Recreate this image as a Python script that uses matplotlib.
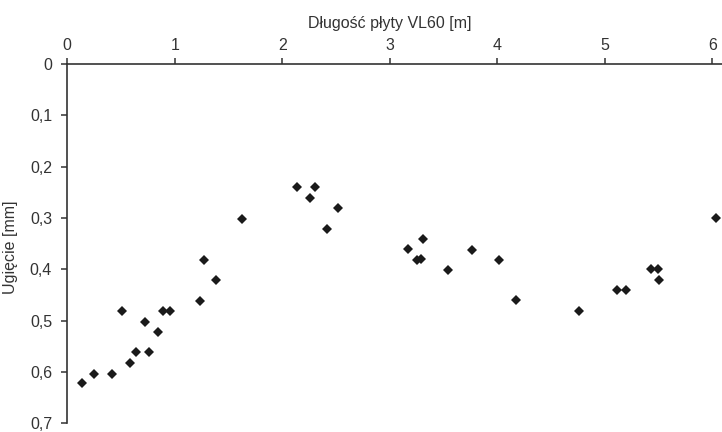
import matplotlib.pyplot as plt
from matplotlib.ticker import FuncFormatter

plt.rcParams.update({
    'font.family': ['Liberation Sans', 'DejaVu Sans'],
    'font.size': 11.5,
})

# --- Data ---
dlugosc = [0.134, 0.251, 0.413, 0.507, 0.584, 0.642, 0.726, 0.763, 0.842, 0.894,
           0.956, 1.236, 1.273, 1.382, 1.629, 2.136, 2.306, 2.253, 2.514, 2.412,
           3.169, 3.309, 3.253, 3.291, 3.542, 3.765, 4.020, 4.175, 4.762, 5.115,
           5.193, 5.432, 5.497, 5.507, 6.034]
ugiecie = [0.622, 0.603, 0.603, 0.481, 0.583, 0.562, 0.503, 0.562, 0.522, 0.481,
           0.481, 0.462, 0.381, 0.421, 0.302, 0.240, 0.240, 0.262, 0.281, 0.321,
           0.361, 0.341, 0.382, 0.380, 0.401, 0.362, 0.381, 0.460, 0.481, 0.440,
           0.440, 0.400, 0.400, 0.421, 0.301]

x_ticks = [0, 1, 2, 3, 4, 5, 6]
y_ticks = [0, 0.1, 0.2, 0.3, 0.4, 0.5, 0.6, 0.7]

INK = '#333333'

fig = plt.figure(figsize=(7.22, 4.32), dpi=100)
ax = fig.add_axes([0.0932, 0.0201, 0.9068, 0.8318])

ax.plot(dlugosc, ugiecie, linestyle='none', marker='D', markersize=4.9,
        color='#1a1a1a', markeredgewidth=0)

ax.set_xlim(0, 6.09)
ax.set_ylim(0.7, 0)

# Only top and left axis lines
for side in ['bottom', 'right']:
    ax.spines[side].set_visible(False)
for side in ['top', 'left']:
    ax.spines[side].set_color(INK)
    ax.spines[side].set_linewidth(1.2)

ax.xaxis.tick_top()
ax.set_xticks(x_ticks)
ax.set_yticks(y_ticks)
comma = FuncFormatter(lambda v, pos: f'{v:g}'.replace('.', ','))
ax.xaxis.set_major_formatter(comma)
ax.yaxis.set_major_formatter(comma)
ax.tick_params(axis='x', direction='out', length=4, width=1.1, color=INK,
               labelcolor=INK, pad=4, labelsize=11.5)
ax.tick_params(axis='y', direction='out', length=4, width=1.1, color=INK,
               labelcolor=INK, pad=7, labelsize=11.5)

ax.xaxis.set_label_position('top')
ax.set_xlabel('Długość płyty VL60 [m]', color=INK, fontsize=11.5)
ax.xaxis.set_label_coords(3 / 6.09, 1.10)
ax.set_ylabel('Ugięcie [mm]', color=INK, fontsize=11.5)
ax.yaxis.set_label_coords(-0.075, 0.49)

fig.savefig('out.png', dpi=100)
